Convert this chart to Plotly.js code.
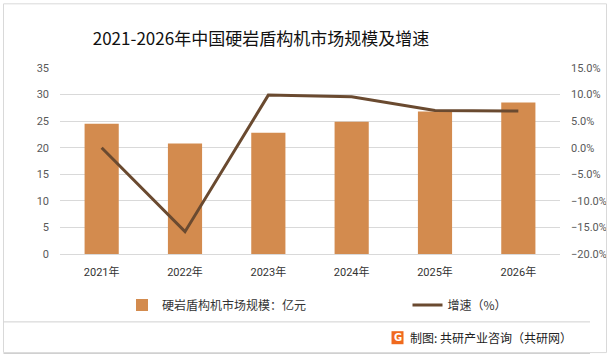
<!DOCTYPE html>
<html><head><meta charset="utf-8">
<script src="https://cdn.plot.ly/plotly-3.0.1.min.js"></script>
<style>html,body{margin:0;padding:0;background:#fff;}#chart{width:614px;height:358px;}</style>
</head><body><div id="chart"></div>
<script>
const years = ['2021年','2022年','2023年','2024年','2025年','2026年'];
const marketSize = [24.5, 20.8, 22.8, 24.9, 26.8, 28.5];
const growth = [0.0, -0.158, 0.099, 0.096, 0.070, 0.069];
const barName = '硬岩盾构机市场规模：亿元';
const lineName = '增速（%）';
const titleText = '2021-2026年中国硬岩盾构机市场规模及增速';
const sourceText = '制图: 共研产业咨询（共研网）';

const FONT = 'Roboto, "Noto Sans CJK SC", sans-serif';
const CJK = '"Noto Sans CJK SC", sans-serif';
const data = [
  {type:'bar', x:years, y:marketSize, name:barName, marker:{color:'#d38b4e'}, yaxis:'y', legend:'legend'},
  {type:'scatter', mode:'lines', x:years, y:growth, name:lineName, yaxis:'y2', legend:'legend2',
   line:{color:'#6a4a30', width:3}}
];
const legendFont = {family:CJK, size:12, color:'#333'};
const layout = {
  width:614, height:358,
  margin:{l:60, r:54, t:68, b:104},
  paper_bgcolor:'#fff', plot_bgcolor:'#fff',
  font:{family:FONT, size:11, color:'#595959'},
  title:{text:titleText, font:{family:CJK, size:17, color:'#111'}, x:0.425, xanchor:'center', y:0.89, yanchor:'middle'},
  bargap:0.59,
  showlegend:true,
  legend:{orientation:'h', x:0.124, xanchor:'left', y:-0.274, yanchor:'middle', font:legendFont, bgcolor:'rgba(0,0,0,0)'},
  legend2:{orientation:'h', x:0.695, xanchor:'left', y:-0.274, yanchor:'middle', font:legendFont, bgcolor:'rgba(0,0,0,0)'},
  xaxis:{showgrid:false, showline:true, linecolor:'#d9d9d9', ticks:'', ticklabelstandoff:8, tickfont:{size:11, color:'#333'}},
  yaxis:{range:[0,35], dtick:5, showgrid:true, gridcolor:'#d9d9d9', zeroline:false, showline:false, ticks:'', ticklabelstandoff:10, tickfont:{color:'#595959'}},
  yaxis2:{overlaying:'y', side:'right', range:[-0.2,0.15], dtick:0.05, tickformat:'.1%', showgrid:false, zeroline:false, showline:false, ticklabelstandoff:10, tickfont:{color:'#595959'}},
  shapes:[
    {type:'rect', xref:'paper', yref:'paper', x0:-0.113, x1:1.093, y0:-0.53, y1:1.345, line:{color:'#d9d9d9', width:1}},
    {type:'line', xref:'paper', yref:'paper', x0:-0.113, x1:1.06, y0:-0.365, y1:-0.365, line:{color:'#d0d0d0', width:1}},
    {type:'line', xref:'paper', yref:'paper', x0:-0.113, x1:1.06, y0:-0.535, y1:-0.535, line:{color:'#d0d0d0', width:1}},
    {type:'rect', xref:'paper', yref:'paper', x0:0.663, x1:0.687, y0:-0.485, y1:-0.415, fillcolor:'#f06a1e', line:{width:0}}
  ],
  annotations:[
    {xref:'paper', yref:'paper', x:0.675, y:-0.45, text:'<b>G</b>', showarrow:false, font:{family:'DejaVu Sans', size:10, color:'#fff'}, xanchor:'center', yanchor:'middle'},
    {xref:'paper', yref:'paper', x:0.695, y:-0.45, text:sourceText, showarrow:false, font:{family:CJK, size:12, color:'#222'}, xanchor:'left', yanchor:'middle'}
  ]
};
Plotly.newPlot('chart', data, layout, {displayModeBar:false, staticPlot:true});
</script></body></html>
